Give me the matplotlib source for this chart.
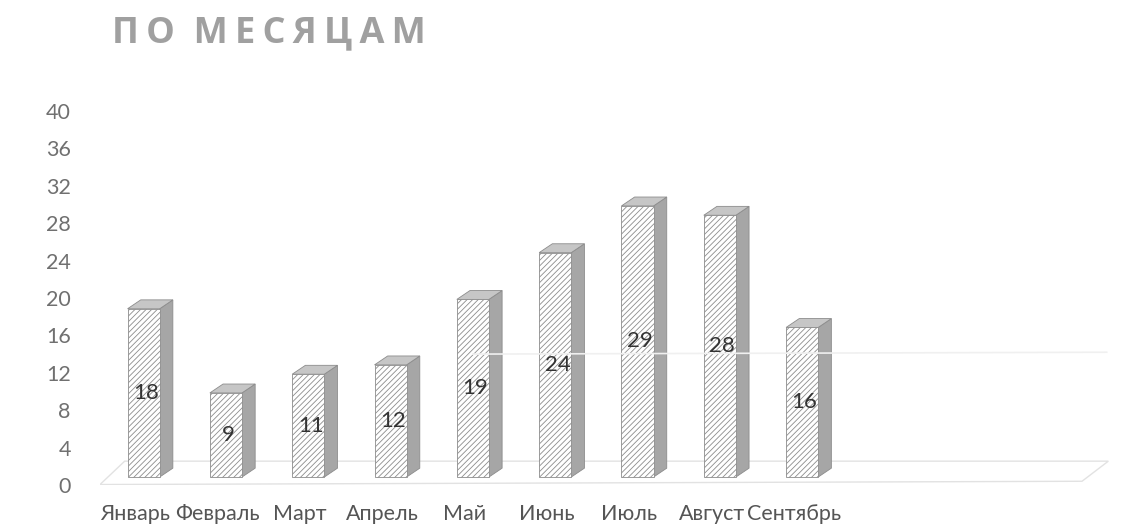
import matplotlib
matplotlib.use("Agg")
import matplotlib.pyplot as plt
from matplotlib.patches import Polygon
import numpy as np

# data
months = ["Январь", "Февраль", "Март", "Апрель", "Май", "Июнь", "Июль",
          "Август", "Сентябрь"]
values = [18, 9, 11, 12, 19, 24, 29, 28, 16]
yticks = [0, 4, 8, 12, 16, 20, 24, 28, 32, 36, 40]

plt.rcParams['font.family'] = ['Lato', 'Open Sans', 'DejaVu Sans']
plt.rcParams['hatch.color'] = '#9a9a9a'
plt.rcParams['hatch.linewidth'] = 0.6

W, H = 1139, 527
fig = plt.figure(figsize=(W / 100, H / 100), dpi=100)
ax = fig.add_axes([100 / W, (H - 485) / H, 1010 / W, 374 / H])
ax.set_xlim(-0.53, 11.74)
ax.set_ylim(0, 40)

# fake 3d look
base = 0.85     # bars sit a bit into the floor
bw = 0.39       # front face width
dx, dy = 0.16, 0.95   # depth offset of side/top faces

# floor
floor = Polygon([(-0.53, 0.05), (11.4, 0.4), (11.72, 2.55), (-0.23, 2.55)],
                closed=True, facecolor='none', edgecolor='#e2e2e2', lw=1.0)
ax.add_patch(floor)
# faint back wall gridline showing through the scan
ax.plot([4.0, 11.7], [14.0, 14.2], color='#f0f0f0', lw=1.2)

x = np.arange(len(values))
for xi, v in zip(x, values):
    l, r = xi - bw / 2, xi + bw / 2
    side = Polygon([(r, base), (r + dx, base + dy), (r + dx, base + v + dy),
                    (r, base + v)], closed=True, facecolor='#a6a6a6',
                   edgecolor='#8c8c8c', lw=0.6)
    top = Polygon([(l, base + v), (r, base + v), (r + dx, base + v + dy),
                   (l + dx, base + v + dy)], closed=True, facecolor='#c6c6c6',
                  edgecolor='#8c8c8c', lw=0.6)
    ax.add_patch(side)
    ax.add_patch(top)

ax.bar(x, values, width=bw, bottom=base, color='white', edgecolor='#8c8c8c',
       hatch='//////', lw=0.6)

for xi, v in zip(x, values):
    ax.text(xi + 0.03, base + v / 2, str(v), ha='center', va='center',
            fontsize=16, color='#333333')

ax.set_yticks(yticks)
ax.set_xticks(x - 0.1)
ax.set_xticklabels(months)
ax.tick_params(axis='y', length=0, pad=21, labelsize=15.5, labelcolor='#707070')
ax.tick_params(axis='x', length=0, pad=14, labelsize=15.5, labelcolor='#555555')
for s in ax.spines.values():
    s.set_visible(False)

title = "\u2009".join("ПО") + "  " + "\u2009".join("МЕСЯЦАМ")
fig.text(112 / W, 1 - 33 / H, title, fontsize=26, fontweight='bold',
         color='#a0a0a0', va='center', ha='left',
         family=['Open Sans', 'DejaVu Sans'])

fig.savefig("out.png", dpi=100)
